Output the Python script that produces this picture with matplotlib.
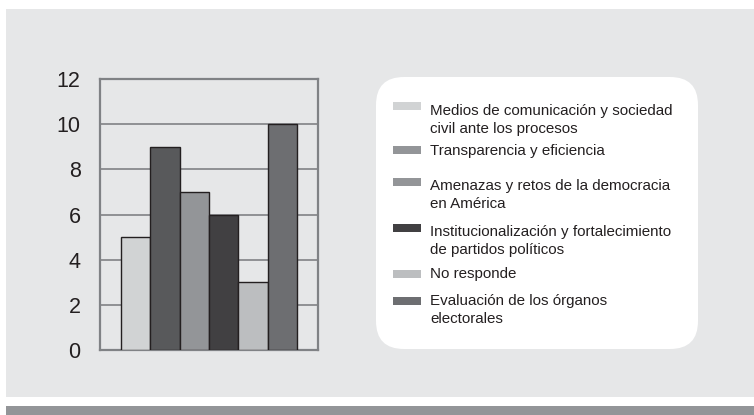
import matplotlib
matplotlib.use("Agg")
import matplotlib.pyplot as plt
from matplotlib.patches import Rectangle, FancyBboxPatch

plt.rcParams['font.family'] = ['Liberation Sans', 'DejaVu Sans']

# Data
series = [
    "Medios de comunicación y sociedad\ncivil ante los procesos",
    "Transparencia y eficiencia",
    "Amenazas y retos de la democracia\nen América",
    "Institucionalización y fortalecimiento\nde partidos políticos",
    "No responde",
    "Evaluación de los órganos\nelectorales",
]
values = [5, 9, 7, 6, 3, 10]
bar_colors = ["#d1d3d4", "#58595b", "#939598", "#414042", "#bcbec0", "#6d6e71"]
legend_colors = ["#d1d3d4", "#939598", "#939598", "#414042", "#bcbec0", "#6d6e71"]
yticks = [0, 2, 4, 6, 8, 10, 12]

W, H = 754, 415
fig = plt.figure(figsize=(W / 100, H / 100), dpi=100)
fig.patch.set_facecolor("white")

# Background overlay axes in pixel coordinates
bg = fig.add_axes([0, 0, 1, 1], zorder=0)
bg.set_xlim(0, W)
bg.set_ylim(H, 0)
bg.axis("off")
bg.add_patch(Rectangle((6, 9), W - 6, 388, facecolor="#e6e7e8", edgecolor="none"))
bg.add_patch(Rectangle((6, 406), W - 6, 9, facecolor="#939598", edgecolor="none"))
bg.add_patch(FancyBboxPatch((376 + 28, 77 + 28), 322 - 56, 272 - 56,
                            boxstyle="round,pad=28", facecolor="white", edgecolor="none"))

# Legend (manual)
sw_y = [106, 150, 182, 228, 274, 301]
txt_y = [112, 152, 187, 233, 275, 302]
for lab, col, sy, ty in zip(series, legend_colors, sw_y, txt_y):
    bg.add_patch(Rectangle((393, sy - 4), 28, 8, facecolor=col, edgecolor="none"))
    bg.text(430.5, ty - 8.5, lab, fontsize=10.9, color="#231f20", va="top", ha="left",
            linespacing=1.38)

# Chart axes
ax = fig.add_axes([100 / W, (H - 350) / H, 218 / W, (350 - 79) / H], zorder=1)
ax.set_facecolor("#e6e7e8")
n = len(values)
group = 0.807
bw = group / n
xs = [-group / 2 + bw * (i + 0.5) for i in range(n)]
ax.bar(xs, values, width=bw, color=bar_colors, edgecolor="#231f20", linewidth=1.0, zorder=3)
ax.set_xlim(-0.5, 0.5)
ax.set_ylim(0, 12)
ax.set_yticks(yticks)
ax.set_yticklabels([str(t) for t in yticks])
ax.set_xticks([])
ax.tick_params(axis="y", length=0, pad=14, labelsize=15.5, labelcolor="#231f20")
ax.yaxis.grid(True, color="#808285", linewidth=1.2, zorder=1)
ax.set_axisbelow(True)
for s in ax.spines.values():
    s.set_color("#808285")
    s.set_linewidth(1.6)

fig.savefig("out.png", dpi=100, facecolor="white")
